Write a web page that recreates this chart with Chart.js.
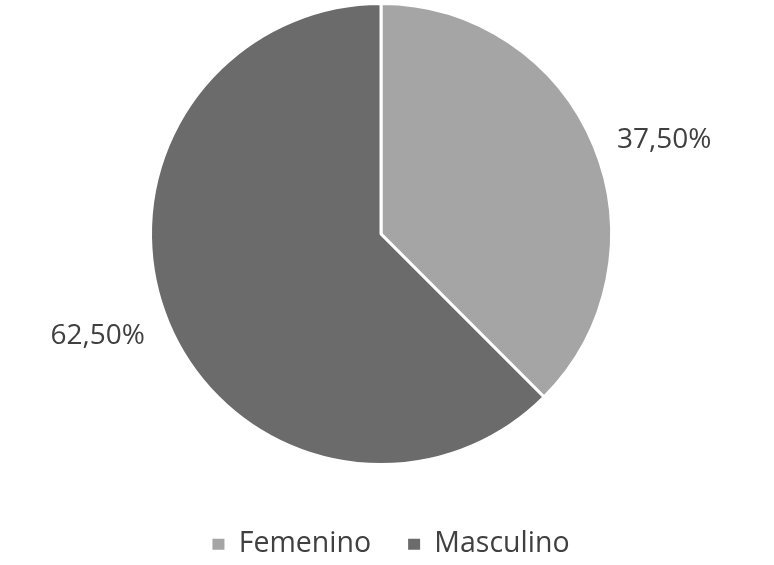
<!DOCTYPE html>
<html>
<head>
<meta charset="utf-8">
<script src="https://cdn.jsdelivr.net/npm/chart.js@4/dist/chart.umd.min.js"></script>
<style>
  html, body { margin: 0; padding: 0; background: #fff; }
  #wrap { width: 774px; height: 565px; }
</style>
</head>
<body>
<div id="wrap"><canvas id="c" width="774" height="565"></canvas></div>
<script>
const categories = ['Femenino', 'Masculino'];
const percents = [37.5, 62.5];
const sliceColors = ['#a5a5a5', '#6b6b6b'];

let fmt = (v) => v.toFixed(2).replace('.', ',') + '%';

// labels outside the slices, Excel style
const outsideLabels = {
    id: 'outsideLabels',
    afterLayout(chart) {
        // legend sits a bit right of the pie centre in the original
        chart.legend.left += 10;
        chart.legend.right += 10;
    },
    afterDatasetsDraw(chart) {
        let ctx = chart.ctx;
        let meta = chart.getDatasetMeta(0);
        ctx.save();
        ctx.font = '28px "Open Sans"';
        ctx.fillStyle = '#404040';
        ctx.textBaseline = 'middle';
        meta.data.forEach((arc, i) => {
            let p = arc.getProps(['x', 'y', 'startAngle', 'endAngle', 'outerRadius'], true);
            let mid = (p.startAngle + p.endAngle) / 2;
            let r = p.outerRadius + 25;
            let x = p.x + Math.cos(mid) * r;
            let y = p.y + Math.sin(mid) * r + 4;
            ctx.textAlign = Math.cos(mid) >= 0 ? 'left' : 'right';
            ctx.fillText(fmt(percents[i]), x, y);
        });
        ctx.restore();
    }
};

const baseLabels = Chart.overrides.pie.plugins.legend.labels.generateLabels;

new Chart(document.getElementById('c'), {
    type: 'pie',
    data: {
        labels: categories,
        datasets: [{
            data: percents,
            backgroundColor: sliceColors,
            borderColor: '#ffffff',
            borderWidth: 3
        }]
    },
    options: {
        responsive: false,
        devicePixelRatio: 1,
        animation: false,
        layout: { padding: { top: 2, left: 0, right: 12, bottom: 0 } },
        plugins: {
            tooltip: { enabled: false },
            legend: {
                position: 'bottom',
                maxHeight: 99,
                title: { display: true, text: '', font: { size: 10 }, padding: { top: 9, bottom: 6 } },
                labels: {
                    boxWidth: 12,
                    boxHeight: 11,
                    padding: 37,
                    color: '#404040',
                    font: { family: '"Open Sans"', size: 28.5 },
                    generateLabels(chart) {
                        let items = baseLabels(chart);
                        items.forEach(it => { it.lineWidth = 0; });
                        return items;
                    }
                }
            }
        }
    },
    plugins: [outsideLabels]
});
</script>
</body>
</html>
